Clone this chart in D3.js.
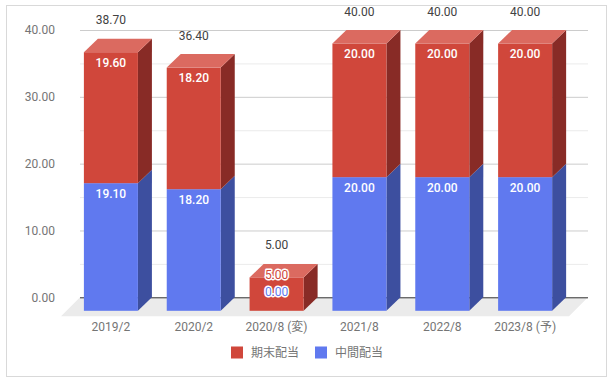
<!DOCTYPE html>
<html><head><meta charset="utf-8">
<script src="https://cdn.jsdelivr.net/npm/d3@7"></script>
<style>
html,body{margin:0;padding:0;background:#fff;}
svg text{font-family:Roboto,"Noto Sans CJK JP",sans-serif;}
</style></head>
<body><svg id="chart" width="616" height="384"></svg>
<script>
const categories = ["2019/2","2020/2","2020/8 (変)","2021/8","2022/8","2023/8 (予)"];
const interim = [19.1, 18.2, 0, 20, 20, 20];      // 中間配当
const yearEnd = [19.6, 18.2, 5, 20, 20, 20];      // 期末配当
const seriesNames = ["中間配当","期末配当"];
const yTicks = [0, 10, 20, 30, 40];
const yMinorTicks = [5, 15, 25, 35];

const svg = d3.select("#chart");
svg.append("rect").attr("x",6.5).attr("y",5.5).attr("width",600).attr("height",371)
  .attr("fill","#fff").attr("stroke","#d9d9d9");

const DX = 14, DY = -13.5;          // bar depth offset
const FDX = -19, FDY = 19;          // floor front offset from back plane
const backX0 = 80, backX1 = 588;

const yBack = d3.scaleLinear().domain([0,40]).range([297.3, 30]);
const yFront = v => yBack(v) - DY;

const x = d3.scaleBand().domain(categories).range([backX0 - DX, backX1 - DX])
  .paddingInner(0.348).paddingOuter(0.24).align(0.45);

const colors = {
  interim: {front:"#6079ef", side:"#3d4f9f", top:"#8a9cf4"},
  yearEnd: {front:"#d0473b", side:"#882b26", top:"#db6a60"}
};

// floor
svg.append("polygon")
  .attr("points", [[backX0,yBack(0)],[backX1,yBack(0)],[backX1+FDX,yBack(0)+FDY],[backX0+FDX,yBack(0)+FDY]].map(p=>p.join(",")).join(" "))
  .attr("fill","#ebebeb");

// gridlines
svg.append("g").selectAll("line").data(yMinorTicks).join("line")
  .attr("x1",backX0).attr("x2",backX1).attr("y1",d=>yBack(d)+0.5).attr("y2",d=>yBack(d)+0.5)
  .attr("stroke","#ebebeb");
svg.append("g").selectAll("line").data(yTicks.filter(d=>d!==0)).join("line")
  .attr("x1",backX0).attr("x2",backX1).attr("y1",d=>yBack(d)+0.5).attr("y2",d=>yBack(d)+0.5)
  .attr("stroke","#cccccc");
svg.append("line").attr("x1",backX0).attr("x2",backX1)
  .attr("y1",yBack(0)+0.5).attr("y2",yBack(0)+0.5).attr("stroke","#333").attr("stroke-width",1);

// y axis labels
const yAxis = d3.axisLeft(yBack).tickValues(yTicks).tickFormat(d3.format(".2f")).tickSize(0).tickPadding(0);
const yg = svg.append("g").attr("transform","translate(55,0)").call(yAxis);
yg.select(".domain").remove();
yg.selectAll("text").attr("fill","#757575").attr("font-size",12);

// bars
const stackData = categories.map((c,i)=>({cat:c, interim:interim[i], yearEnd:yearEnd[i]}));
const stack = d3.stack().keys(["interim","yearEnd"])(stackData);
const bars = svg.append("g");
const n = categories.length;
for (let i=0;i<n;i++){
  const cat = categories[i];
  const x0 = x(cat), x1 = x0 + x.bandwidth();
  const g = bars.append("g");
  stack.forEach((layer, li)=>{
    const [v0, v1] = layer[i];
    const c = colors[layer.key];
    const yb = yFront(v0), yt = yFront(v1);
    if (v1 > v0){
      g.append("polygon").attr("points",[[x1,yt],[x1+DX,yt+DY],[x1+DX,yb+DY],[x1,yb]].map(p=>p.join(",")).join(" "))
        .attr("fill",c.side);
      g.append("rect").attr("x",x0).attr("y",yt).attr("width",x1-x0).attr("height",yb-yt).attr("fill",c.front);
    }
    if (li === stack.length-1){
      g.append("polygon").attr("points",[[x0,yt],[x0+DX,yt+DY],[x1+DX,yt+DY],[x1,yt]].map(p=>p.join(",")).join(" "))
        .attr("fill",c.top);
    }
  });
}

// inner value labels
const labels = svg.append("g");
const fmt = d3.format(".2f");
for (let i=0;i<n;i++){
  const cat = categories[i];
  const cx = x(cat) + x.bandwidth()/2;
  let prevY = Infinity;
  stack.forEach(layer=>{
    const [v0,v1] = layer[i];
    const c = colors[layer.key];
    const yb = yFront(v0), yt = yFront(v1);
    let ly = yt + 10.5;
    const fits = (yb - yt) >= 18 && ly <= prevY - 17;
    if (!fits) ly = Math.min(ly, prevY - 17, yFront(0) - 18.5);
    prevY = ly;
    const t = labels.append("text").attr("x",cx).attr("y",ly).attr("text-anchor","middle")
      .attr("dominant-baseline","central").attr("font-size",12).text(fmt(v1-v0));
    if (fits){
      t.attr("fill","#fff").attr("font-weight",500);
    } else {
      t.attr("fill",c.front).attr("stroke","#fff").attr("stroke-width",3)
       .attr("paint-order","stroke").attr("stroke-linejoin","round");
    }
  });
  // total
  const total = interim[i] + yearEnd[i];
  labels.append("text").attr("x",cx).attr("y",yBack(total) - 18.5).attr("text-anchor","middle")
    .attr("dominant-baseline","central").attr("font-size",12).attr("fill","#424242").text(fmt(total));
}

// x axis labels
svg.append("g").selectAll("text").data(categories).join("text")
  .attr("x",d=>x(d)+x.bandwidth()/2).attr("y",327).attr("text-anchor","middle")
  .attr("dominant-baseline","central").attr("font-size",12).attr("fill","#757575").text(d=>d);

// legend
const legendItems = [{name:"期末配当", c:colors.yearEnd.front},{name:"中間配当", c:colors.interim.front}];
const lg = svg.append("g");
const lx = [231, 315];
legendItems.forEach((d,i)=>{
  lg.append("rect").attr("x",lx[i]).attr("y",346.5).attr("width",12).attr("height",12).attr("fill",d.c);
  lg.append("text").attr("x",lx[i]+20).attr("y",352.5).attr("dominant-baseline","central")
    .attr("font-size",12).attr("fill","#757575").text(d.name);
});
</script></body></html>
